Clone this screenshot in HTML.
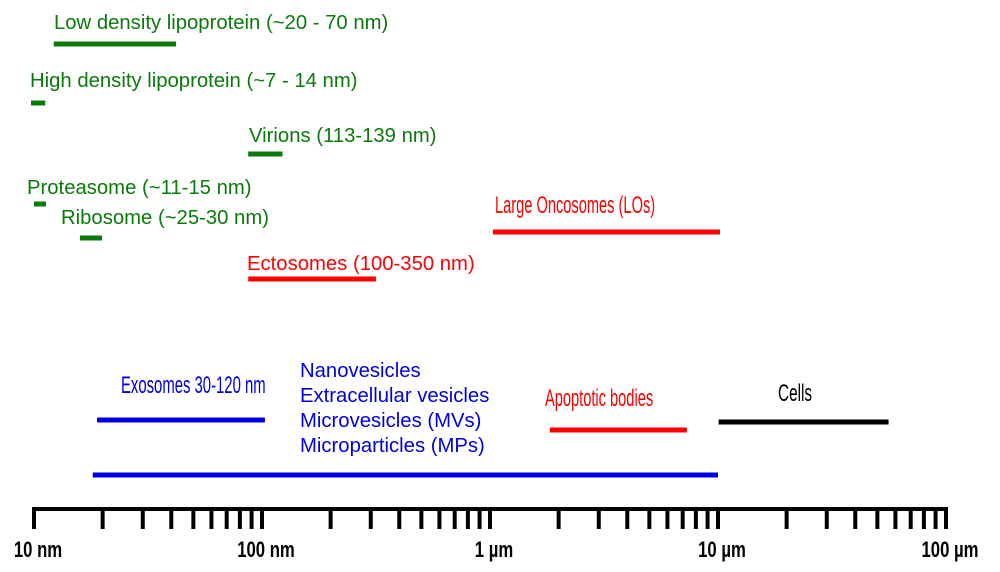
<!DOCTYPE html>
<html><head><meta charset="utf-8"><style>
html,body{margin:0;padding:0;background:#fff;}
svg{display:block;font-family:"Liberation Sans",sans-serif;}
</style></head><body>
<svg id="chart" width="1000" height="572" viewBox="0 0 1000 572" xmlns="http://www.w3.org/2000/svg"></svg>
<script>
// Data (sizes in nm)
const itemNames = ["LDL","HDL","Virions","Proteasome","Ribosome","Ectosomes","Large Oncosomes","Exosomes","Extracellular vesicles","Apoptotic bodies","Cells"];
const itemMin = [12.2, 9.7, 87, 10, 15.9, 87, 1030, 18.9, 18.1, 1830, 10060];
const itemMax = [42, 11.2, 123, 11.3, 19.9, 316, 10200, 103, 10000, 7300, 56000];
const itemRowY = [44, 103, 154, 204, 238, 279, 232, 420, 475, 430, 422];
const itemColor = ["#0a7a0a","#0a7a0a","#0a7a0a","#0a7a0a","#0a7a0a","#f00","#f00","#0000e6","#0000e6","#f00","#000"];
const tickLabels = ["10 nm","100 nm","1 µm","10 µm","100 µm"];
const tickValues = [10,100,1000,10000,100000];

const svg = document.getElementById('chart');
const NS = "http://www.w3.org/2000/svg";
const x0 = 34, decade = 228;
function xScale(v){ return x0 + (Math.log10(v) - 1) * decade; }
function mk(tag, attrs){ const e = document.createElementNS(NS, tag); for (const k in attrs) e.setAttribute(k, attrs[k]); svg.appendChild(e); return e; }

// axis
const axis = mk('line', {x1: xScale(10)-2, x2: xScale(100000)+2, y1: 509, y2: 509, stroke: '#000', 'stroke-width': 4});


for (let d = 10; d < 100000; d *= 10) {
  for (let m = 1; m <= 10; m++) {
    const v = d * m;
    const t = mk('line', {x1: xScale(v), x2: xScale(v), y1: 509, y2: 529, stroke: '#000', 'stroke-width': 4});
    
    
  }
}
tickValues.forEach((v, i) => {
  const cx = xScale(v) + 4;
  const t = mk('text', {x: cx, y: 557, 'text-anchor': 'middle', 'font-size': 22, 'font-weight': 'bold', fill: '#000', transform: `translate(${cx},0) scale(0.76,1) translate(${-cx},0)`});
  t.textContent = tickLabels[i];
  
  
});

// bars
itemNames.forEach((n, i) => {
  const b = mk('line', {x1: xScale(itemMin[i]), x2: xScale(itemMax[i]), y1: itemRowY[i], y2: itemRowY[i], stroke: itemColor[i], 'stroke-width': 5});
  
  
});

// labels
const labels = [
  ["Low density lipoprotein (~20 - 70 nm)", 54, 29, "#0a7a0a", 20.3, 1],
  ["High density lipoprotein (~7 - 14 nm)", 30, 87, "#0a7a0a", 20.3, 1],
  ["Virions (113-139 nm)", 249, 142, "#0a7a0a", 20.3, 1],
  ["Proteasome (~11-15 nm)", 27, 194, "#0a7a0a", 20.3, 1],
  ["Ribosome (~25-30 nm)", 61, 224, "#0a7a0a", 20.3, 1],
  ["Ectosomes (100-350 nm)", 247, 270, "#f00", 20.3, 1],
  ["Large Oncosomes (LOs)", 495, 213, "#f00", 24, 0.61],
  ["Exosomes 30-120 nm", 121, 393, "#0000e6", 24, 0.62],
  ["Nanovesicles", 300, 377, "#0000e6", 20.3, 1],
  ["Extracellular vesicles", 300, 402, "#0000e6", 20.3, 1],
  ["Microvesicles (MVs)", 300, 427, "#0000e6", 20.3, 1],
  ["Microparticles (MPs)", 300, 452, "#0000e6", 20.3, 1],
  ["Apoptotic bodies", 545, 406, "#f00", 24, 0.61],
  ["Cells", 778, 401, "#000", 24, 0.64]
];
labels.forEach(l => {
  const t = mk('text', {x: l[1], y: l[2], fill: l[3], 'font-size': l[4], transform: `translate(${l[1]},0) scale(${l[5]},1) translate(${-l[1]},0)`});
  t.textContent = l[0];
  
  
});
</script>
</body></html>
